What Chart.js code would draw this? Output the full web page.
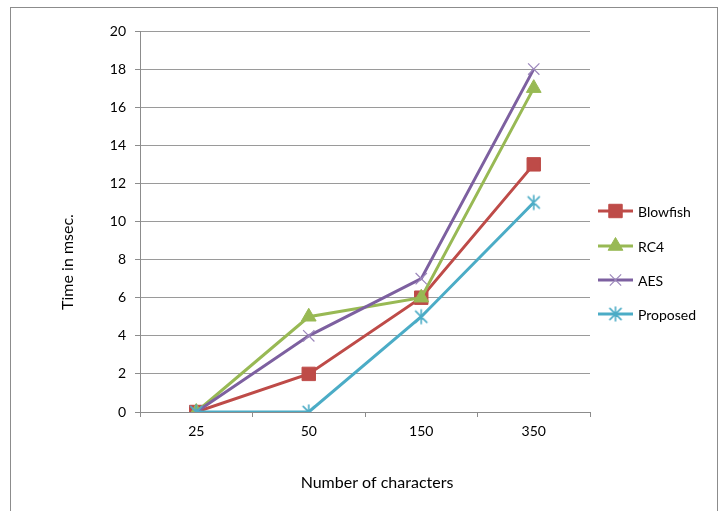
<!DOCTYPE html>
<html>
<head>
<meta charset="utf-8">
<script src="https://cdn.jsdelivr.net/npm/chart.js@4/dist/chart.umd.min.js"></script>
<style>
  html, body { margin: 0; padding: 0; background: #fff; }
  #wrap { width: 725px; height: 511px; position: relative; }
</style>
</head>
<body>
<div id="wrap"><canvas id="c" width="725" height="511"></canvas></div>
<script>
// Encryption time per input size
const categories = ['25', '50', '150', '350'];
const blowfish = [0, 2, 6, 13];
const rc4      = [0, 5, 6, 17];
const aes      = [0, 4, 7, 18];
const proposed = [0, 0, 5, 11];
const seriesNames = ['Blowfish', 'RC4', 'AES', 'Proposed'];
const yTicks = [0, 2, 4, 6, 8, 10, 12, 14, 16, 18, 20];

const FONT = 'Lato, "Open Sans", sans-serif';
const colors = ['#BE4B48', '#98B954', '#7D60A0', '#4BACC6'];

// asterisk marker: an X crossed by a vertical stroke
function asteriskMarker(color, r) {
  const s = r * 2 + 4;
  const cv = document.createElement('canvas');
  cv.width = s; cv.height = s;
  const g = cv.getContext('2d');
  const c = s / 2;
  g.strokeStyle = color; g.lineWidth = 1.6; g.lineCap = 'round';
  g.beginPath();
  g.moveTo(c - r * 0.8, c - r * 0.8); g.lineTo(c + r * 0.8, c + r * 0.8);
  g.moveTo(c + r * 0.8, c - r * 0.8); g.lineTo(c - r * 0.8, c + r * 0.8);
  g.moveTo(c, c - r); g.lineTo(c, c + r);
  g.stroke();
  return cv;
}
const starImg = asteriskMarker(colors[3], 7);

function ds(label, data, color, style, radius, order, extra) {
  return Object.assign({
    label, data,
    borderColor: color, backgroundColor: color,
    borderWidth: 3,
    pointStyle: style, pointRadius: radius, pointHoverRadius: radius,
    pointBorderColor: color, pointBackgroundColor: color, pointBorderWidth: 1,
    tension: 0, order
  }, extra || {});
}

const datasets = [
  ds(seriesNames[0], blowfish, colors[0], 'rect', 9.5, 4),
  ds(seriesNames[1], rc4, colors[1], 'triangle', 8.5, 3),
  ds(seriesNames[2], aes, colors[2], 'crossRot', 8, 2, { pointBorderColor: '#9c87bb', pointBorderWidth: 1.2 }),
  ds(seriesNames[3], proposed, colors[3], starImg, 7, 1)
];

const frameAndTitles = {
  id: 'frameAndTitles',
  beforeDraw(chart) {
    const ctx = chart.ctx;
    ctx.save();
    ctx.fillStyle = '#fff';
    ctx.fillRect(0, 0, chart.width, chart.height);
    ctx.strokeStyle = '#8c8c8c';
    ctx.lineWidth = 1;
    ctx.strokeRect(10.5, 7.5, 707, 520);
    ctx.restore();
  },
  afterDraw(chart) {
    const ctx = chart.ctx;
    ctx.save();
    ctx.fillStyle = '#000';
    ctx.font = '16px ' + FONT;
    ctx.textAlign = 'center';
    ctx.textBaseline = 'middle';
    ctx.fillText('Number of characters', 377, 483);
    ctx.translate(68, 262);
    ctx.rotate(-Math.PI / 2);
    ctx.fillText('Time in msec.', 0, 0);
    ctx.restore();

    // legend: line sample with marker, then label
    const ys = [211, 246, 280, 314];
    ctx.save();
    ctx.font = '14px ' + FONT;
    ctx.textAlign = 'left';
    ctx.textBaseline = 'middle';
    chart.data.datasets.forEach((d, i) => {
      const y = ys[i];
      ctx.strokeStyle = d.borderColor;
      ctx.lineWidth = 3;
      ctx.beginPath();
      ctx.moveTo(598, y); ctx.lineTo(633, y);
      ctx.stroke();
      ctx.fillStyle = d.pointBackgroundColor;
      ctx.strokeStyle = d.pointBorderColor;
      ctx.lineWidth = d.pointBorderWidth;
      Chart.helpers.drawPoint(ctx, {
        pointStyle: d.pointStyle, radius: d.pointRadius, rotation: 0,
        borderWidth: d.pointBorderWidth
      }, 615.5, y);
      ctx.fillStyle = '#000';
      ctx.fillText(d.label, 638, y + 1);
    });
    ctx.restore();
  }
};

new Chart(document.getElementById('c'), {
  type: 'line',
  data: { labels: categories, datasets },
  options: {
    responsive: false,
    animation: false,
    events: [],
    layout: { padding: { left: 0, top: 31, right: 135, bottom: 0 } },
    plugins: { legend: { display: false }, tooltip: { enabled: false } },
    scales: {
      x: {
        type: 'category',
        offset: true,
        afterFit(scale) { scale.height = 99; },
        grid: {
          offset: true, drawOnChartArea: false, drawTicks: true,
          tickLength: 5, color: '#8c8c8c', tickColor: '#8c8c8c'
        },
        border: { display: true, color: '#8c8c8c', width: 1 },
        ticks: { color: '#000', font: { family: FONT, size: 14 }, padding: 6, maxRotation: 0 }
      },
      y: {
        min: 0, max: 20,
        afterFit(scale) { scale.width = 140; },
        afterBuildTicks(scale) { scale.ticks = yTicks.map(v => ({ value: v })); },
        grid: { color: '#9a9a9a', tickLength: 5, tickColor: '#8c8c8c', lineWidth: 1 },
        border: { display: true, color: '#8c8c8c', width: 1 },
        ticks: { color: '#000', font: { family: FONT, size: 14 }, padding: 9 }
      }
    }
  },
  plugins: [frameAndTitles]
});
</script>
</body>
</html>
